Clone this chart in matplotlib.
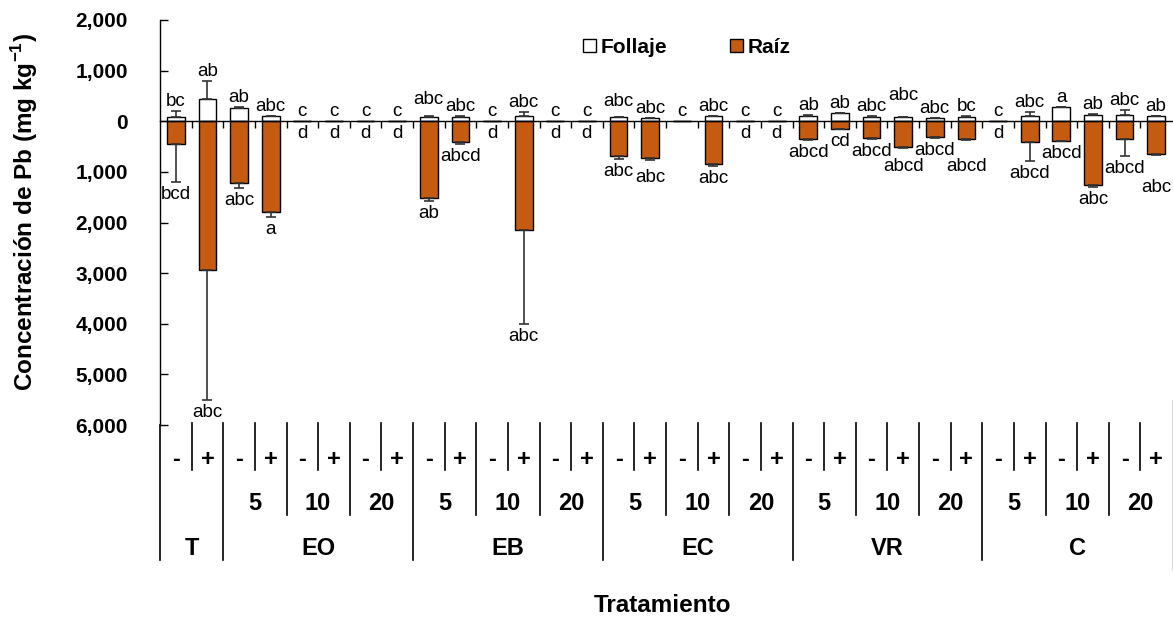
import matplotlib
matplotlib.use('Agg')
import matplotlib.pyplot as plt
from matplotlib.patches import Patch
from matplotlib.lines import Line2D
from matplotlib.transforms import blended_transform_factory
import numpy as np

plt.rcParams['font.family'] = ['Liberation Sans', 'DejaVu Sans']
plt.rcParams['mathtext.fontset'] = 'custom'
plt.rcParams['mathtext.rm'] = 'Liberation Sans'
plt.rcParams['mathtext.bf'] = 'Liberation Sans:bold'

# ---------------- data ----------------
signs = ['-', '+'] * 16
doses = ['', '5', '10', '20', '5', '10', '20', '5', '10', '20',
         '5', '10', '20', '5', '10', '20']
groups = ['T', 'EO', 'EB', 'EC', 'VR', 'C']
group_sizes = [2, 6, 6, 6, 6, 6]

foliage = [80, 430, 265, 100, 0, 0, 0, 0,
           90, 90, 0, 100, 0, 0,
           80, 60, 0, 100, 0, 0,
           110, 165, 90, 80, 60, 90,
           0, 100, 275, 130, 130, 100]
foliage_err = [120, 360, 10, 10, 0, 0, 0, 0,
               5, 5, 0, 80, 0, 0,
               10, 5, 0, 10, 0, 0,
               5, 5, 5, 5, 5, 5,
               0, 85, 10, 5, 85, 5]
root = [440, 2940, 1215, 1800, 0, 0, 0, 0,
        1520, 415, 0, 2150, 0, 0,
        680, 730, 0, 840, 0, 0,
        350, 150, 340, 510, 315, 360,
        0, 405, 385, 1265, 360, 645]
root_err = [760, 2560, 100, 90, 0, 0, 0, 0,
            60, 25, 0, 1850, 0, 0,
            70, 30, 0, 40, 0, 0,
            15, 10, 10, 15, 10, 10,
            0, 385, 10, 35, 330, 15]
letters_foliage = ['bc', 'ab', 'ab', 'abc', 'c', 'c', 'c', 'c',
                   'abc', 'abc', 'c', 'abc', 'c', 'c',
                   'abc', 'abc', 'c', 'abc', 'c', 'c',
                   'ab', 'ab', 'abc', 'abc', 'abc', 'bc',
                   'c', 'abc', 'a', 'ab', 'abc', 'ab']
letters_root = ['bcd', 'abc', 'abc', 'a', 'd', 'd', 'd', 'd',
                'ab', 'abcd', 'd', 'abc', 'd', 'd',
                'abc', 'abc', '', 'abc', 'd', 'd',
                'abcd', 'cd', 'abcd', 'abcd', 'abcd', 'abcd',
                'd', 'abcd', 'abcd', 'abc', 'abcd', 'abc']

# label nudges (pixels) to avoid overlaps
nudge_top = {8: 7, 14: 6, 23: 12}
nudge_bot = {15: 5, 23: 6, 25: 14, 31: 20}

W, H = 1173, 618
ORANGE = '#C55A11'

fig = plt.figure(figsize=(W / 100, H / 100), dpi=100)
ax = fig.add_axes([160 / W, 1 - 425 / H, 1012 / W, 405 / H])

n = len(foliage)
x = np.arange(n)
fol = np.array(foliage, float)
fe = np.array(foliage_err, float)
rt = np.array(root, float)
re_ = np.array(root_err, float)

ax.bar(x, fol, width=0.56, color='white', edgecolor='black', linewidth=1.0, zorder=2)
ax.bar(x, -rt, width=0.56, color=ORANGE, edgecolor='black', linewidth=1.0, zorder=2)

m = fol > 0
ax.errorbar(x[m], fol[m], yerr=[np.zeros(m.sum()), fe[m]], fmt='none',
            ecolor='#333333', elinewidth=1.2, capsize=3.6, capthick=1.2, zorder=3)
m = rt > 0
ax.errorbar(x[m], -rt[m], yerr=[re_[m], np.zeros(m.sum())], fmt='none',
            ecolor='#333333', elinewidth=1.2, capsize=3.6, capthick=1.2, zorder=3)

px = 72 / 100
for i in range(n):
    ytop = fol[i] + fe[i]
    ax.annotate(letters_foliage[i], (i, ytop),
                xytext=(0, (5 + nudge_top.get(i, 0)) * px), textcoords='offset points',
                ha='center', va='baseline', fontsize=13.5)
    if letters_root[i]:
        ybot = -(rt[i] + re_[i])
        ax.annotate(letters_root[i], (i, ybot),
                    xytext=(0, -(4 + nudge_bot.get(i, 0)) * px), textcoords='offset points',
                    ha='center', va='top', fontsize=13.5)

ax.set_xlim(-0.5, n - 0.5)
ax.set_ylim(-6000, 2000)
yt = list(range(-6000, 2001, 1000))
ax.set_yticks(yt, labels=[f"{abs(v):,}" for v in yt], fontweight='bold', fontsize=15)
ax.tick_params(axis='y', direction='in', length=6, width=1.0, pad=23)
ax.set_xticks(np.arange(0.5, n - 0.5, 1.0), labels=[])
ax.tick_params(axis='x', direction='out', length=5, width=1.0)
ax.spines['bottom'].set_position(('data', 0))
ax.spines['bottom'].set_zorder(4)
ax.spines['top'].set_visible(False)
ax.spines['right'].set_visible(False)
for s in ('left', 'bottom'):
    ax.spines[s].set_linewidth(1.0)

# ---------------- category table under the plot ----------------
trans = blended_transform_factory(ax.transData, fig.transFigure)


def fy(p):
    return 1 - p / H


group_edges = np.cumsum([0] + group_sizes)
for i in range(n):
    ax.text(i, fy(466), signs[i], transform=trans, ha='center', va='baseline',
            fontsize=17, fontweight='bold')
for k, d in enumerate(doses):
    if d:
        ax.text(2 * k + 0.5, fy(510), d, transform=trans, ha='center', va='baseline',
                fontsize=17, fontweight='bold')
for g, (a, b) in zip(groups, zip(group_edges[:-1], group_edges[1:])):
    ax.text((a + b - 1) / 2, fy(555), g, transform=trans, ha='center', va='baseline',
            fontsize=17, fontweight='bold')

lw = 1.2
for b in range(n):
    xb = b + 0.5
    if b == n - 1:
        continue
    if (b + 1) in group_edges:
        y0 = fy(560)
    elif b % 2 == 0:
        y0 = fy(470)
    else:
        y0 = fy(515)
    ax.add_line(Line2D([xb, xb], [fy(423), y0], transform=trans, color='black',
                       lw=lw, clip_on=False))
ax.add_line(Line2D([-0.5, -0.5], [fy(425), fy(560)], transform=trans, color='black',
                   lw=lw, clip_on=False))
fig.add_artist(Line2D([1171.5 / W] * 2, [fy(570), fy(400)], color='#d9d9d9', lw=0.8))

# ---------------- axis titles ----------------
fig.text(662 / W, fy(612.5), 'Tratamiento', ha='center', va='baseline',
         fontsize=17.5, fontweight='bold')
fig.text(25 / W, fy(212), r'Concentración de Pb (mg kg$^{\mathbf{-1}}$)', rotation=90,
         ha='center', va='center', fontsize=17.5, fontweight='bold')

# ---------------- legend ----------------
handles = [Patch(facecolor='white', edgecolor='black', label='Follaje'),
           Patch(facecolor=ORANGE, edgecolor='black', label='Raíz')]
fig.legend(handles=handles, loc='center', bbox_to_anchor=(687 / W, fy(47.7)), ncol=2,
           frameon=False, prop={'weight': 'bold', 'size': 15}, handlelength=0.6,
           handleheight=0.6, handletextpad=0.25, columnspacing=3.0, borderpad=0,
           borderaxespad=0)

fig.savefig('out.png', dpi=100)
